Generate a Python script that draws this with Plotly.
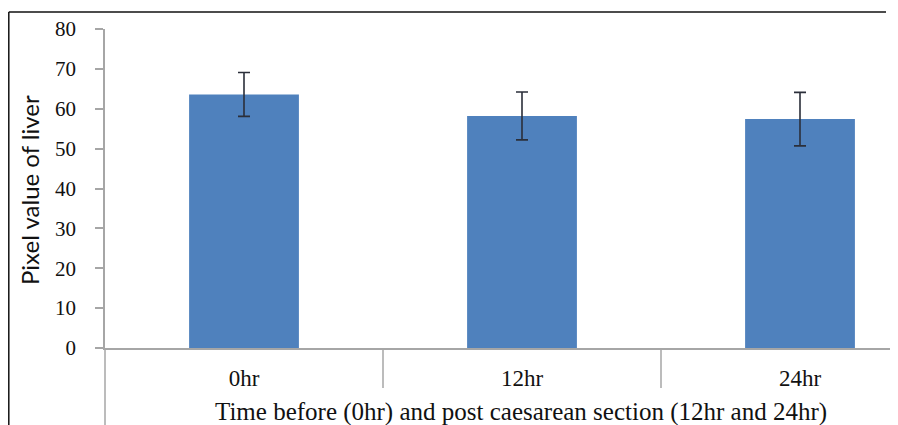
import plotly.graph_objects as go

categories = ["0hr", "12hr", "24hr"]
means = [63.6, 58.2, 57.4]
errors = [5.5, 6.0, 6.7]
y_ticks = [0, 10, 20, 30, 40, 50, 60, 70, 80]

# page body has an 8px margin; figure coords = reference coords - 8
OFF = 8
W, H = 898 - OFF, 425 - OFF
L, T, R, B = 105 - OFF, 29 - OFF, 0, 425 - 348
pw, ph = W - L - R, H - T - B

axis_col = "#a6a6a6"

fig = go.Figure()
fig.add_trace(go.Bar(
    x=categories, y=means, width=0.395,
    marker=dict(color="#4f81bd", line=dict(width=0)),
    error_y=dict(type="data", array=errors, visible=True,
                 color="#2b2f3a", thickness=1.6, width=6),
))

fig.update_layout(
    width=W, height=H,
    margin=dict(l=L, r=R, t=T, b=B, pad=0, autoexpand=False),
    paper_bgcolor="white", plot_bgcolor="white",
    showlegend=False,
    xaxis=dict(type="category", range=[-0.5, -0.5 + pw / 278.0],
               automargin=False,
               showline=True, linecolor=axis_col, linewidth=1.5,
               ticks="", showgrid=False, zeroline=False,
               tickfont=dict(family="Liberation Serif", size=23, color="#111"),
               ticklabelstandoff=9),
    yaxis=dict(range=[0, 80], tickvals=y_ticks, automargin=False,
               showline=True, linecolor=axis_col, linewidth=1.5,
               ticks="outside", ticklen=8, tickcolor=axis_col, tickwidth=1.5,
               showgrid=False, zeroline=False,
               tickfont=dict(family="Liberation Serif", size=21, color="#111"),
               ticklabelstandoff=15),
)

def px_x(p):
    # p in reference pixels
    return (p - OFF - L) / pw

def px_y(p):
    return (H - B - (p - OFF)) / ph

shapes = [
    # outer frame (top and left)
    dict(type="line", xref="paper", yref="paper", x0=px_x(8.8), x1=px_x(886),
         y0=px_y(12), y1=px_y(12), line=dict(color="#111", width=1.5)),
    dict(type="line", xref="paper", yref="paper", x0=px_x(8.8), x1=px_x(8.8),
         y0=px_y(12), y1=px_y(425), line=dict(color="#111", width=1.5)),
    # y-axis extension below x-axis
    dict(type="line", xref="paper", yref="paper", x0=0, x1=0,
         y0=0, y1=px_y(425), line=dict(color=axis_col, width=1.5)),
]
for b in [0.5, 1.5]:
    shapes.append(dict(type="line", xref="x", yref="paper", x0=b, x1=b,
                       y0=0, y1=px_y(388), line=dict(color=axis_col, width=1.5)))
fig.update_layout(shapes=shapes)

fig.add_annotation(text="Time before (0hr) and post caesarean section (12hr and 24hr)",
                   xref="paper", yref="paper", x=px_x(521), y=px_y(412),
                   xanchor="center", yanchor="middle", showarrow=False,
                   font=dict(family="Liberation Serif", size=25, color="#111"))
fig.add_annotation(text="Pixel value of liver", textangle=-90,
                   xref="paper", yref="paper", x=px_x(29), y=px_y(190),
                   xanchor="center", yanchor="middle", showarrow=False,
                   font=dict(family="Lato", size=24, color="#111"))

fig.write_html("out.html", config={"displayModeBar": False},
               post_script="document.documentElement.style.overflow='hidden';"
                           "document.body.style.overflow='hidden';")
